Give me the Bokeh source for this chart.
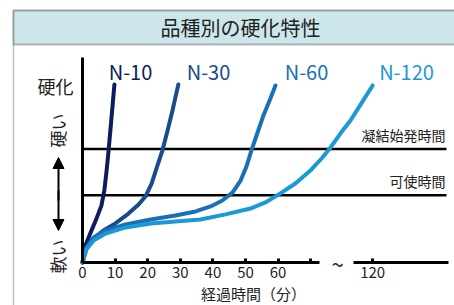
from math import pi
from bokeh.plotting import figure
from bokeh.models import (LinearAxis, FixedTicker, Range1d, BoxAnnotation, Label,
                          Arrow, NormalHead)
from bokeh.embed import file_html
from bokeh.resources import INLINE
from bokeh.core.properties import value

# ---------------- data ----------------
# elapsed time (axis position in minutes; the axis is broken after 70, 120 sits at 89)
n10_x = [0, 0.9, 2.5, 4.3, 5.8, 6.7, 7.4, 8.0, 8.6, 9.2, 9.8]
n10_y = [0, 8.1, 14.3, 21.0, 27.1, 34.3, 43.8, 53.3, 63.8, 74.3, 84.8]

n30_x = [0, 1.2, 3.1, 6.4, 10.1, 14.1, 17.2, 19.3, 21.2, 23.0, 24.5, 26.1, 27.6, 29.4]
n30_y = [0, 6.7, 11.0, 15.2, 18.6, 23.3, 27.6, 31.4, 37.6, 46.2, 53.3, 62.9, 72.4, 84.8]

n60_x = [0, 1.2, 3.4, 7.1, 13.2, 20.9, 28.5, 34.7, 39.3, 42.9, 46.0, 48.5, 50.3, 51.8, 53.7, 55.5, 57.4, 59.2]
n60_y = [0, 7.1, 11.9, 15.2, 18.1, 20.5, 22.4, 24.3, 26.7, 29.5, 33.3, 39.0, 45.7, 53.3, 61.9, 70.0, 77.1, 84.3]

n120_x = [0, 1.2, 3.4, 7.1, 13.2, 20.9, 28.5, 36.2, 43.9, 51.5, 56.1, 60.7, 65.3, 69.9, 73.6, 76.1, 79.1, 82.2, 85.3, 89.0]
n120_y = [0, 6.2, 10.5, 13.8, 16.7, 18.6, 19.5, 20.5, 22.9, 25.7, 28.6, 32.9, 37.6, 43.8, 50.0, 54.8, 61.4, 67.6, 75.2, 84.3]

series_names = ["N-10", "N-30", "N-60", "N-120"]
series_colors = ["#0c1c5c", "#1a4b8c", "#1a70b5", "#1b98d6"]

thresholds = [32, 54]
threshold_labels = ["可使時間", "凝結始発時間"]

ticks_main = [0, 10, 20, 30, 40, 50, 60, 70]
tick_labels_main = ["0", "10", "20", "30", "40", "50", "60", ""]
ticks_far = [89]
tick_labels_far = ["120"]

title_text = "品種別の硬化特性"
x_title = "経過時間（分）"

# ---------------- layout helpers (page pixel -> data) ----------------
W, H = 454, 305
OFF = 0                     # page offset of the canvas
PX0, PY0 = 82, 262          # page pixel of the origin
SX, SY = 3.26, 2.1          # pixels per unit


def dx(px):
    return (px - PX0) / SX


def dy(py):
    return (PY0 - py) / SY


p = figure(width=W, height=H, x_range=Range1d(dx(OFF), dx(OFF + W)),
           y_range=Range1d(dy(OFF + H), dy(OFF)), output_backend="svg",
           toolbar_location=None, min_border=0, x_axis_type=None, y_axis_type=None)
p.outline_line_color = None
p.background_fill_color = "white"
p.border_fill_color = "white"

JP = "Noto Sans CJK JP"

# outer frame and title bar
p.add_layout(BoxAnnotation(left=dx(13), right=dx(600), top=dy(10), bottom=dy(600),
                           fill_alpha=0, line_color="#333333", line_width=1.5))
p.add_layout(BoxAnnotation(left=dx(13), right=dx(600), top=dy(10), bottom=dy(44),
                           fill_color="#cce6ea", fill_alpha=1, line_color="#222222", line_width=2))
p.add_layout(Label(x=dx(240), y=dy(27), text=title_text, text_font=JP, text_font_size="20px",
                   text_align="center", text_baseline="middle", text_color="#222222"))

# threshold lines
line_end = dx(446)
for t, lab in zip(thresholds, threshold_labels):
    p.segment(x0=[0], y0=[t], x1=[line_end], y1=[t], line_color="black", line_width=2.5)
    p.text(x=[dx(445)], y=[t], text=[lab], text_font=value(JP), text_font_size="14px",
           text_align="right", text_baseline="bottom", y_offset=-4, text_color="#222222")

# curves
for xs, ys, c in zip([n10_x, n30_x, n60_x, n120_x], [n10_y, n30_y, n60_y, n120_y], series_colors):
    p.line(xs, ys, line_color=c, line_width=4, line_cap="round", line_join="round")

# series labels
label_x = [dx(130), dx(208), dx(306), dx(406)]
for lx, name, c in zip(label_x, series_names, series_colors):
    p.text(x=[lx], y=[dy(71)], text=[name], text_font=value(JP), text_font_size="20px",
           text_align="center", text_baseline="middle", text_color=c)

# y axis (line only)
yax = LinearAxis(fixed_location=0, bounds=(0, dy(57)), ticker=FixedTicker(ticks=[]),
                 major_tick_in=0, major_tick_out=0, minor_tick_in=0, minor_tick_out=0,
                 axis_line_width=3, axis_line_color="black", major_label_text_font_size="0px")
p.add_layout(yax, "left")

# x axes (broken)
def make_xaxis(bounds, ticks, labels):
    ax = LinearAxis(fixed_location=0, bounds=bounds, ticker=FixedTicker(ticks=ticks),
                    major_label_overrides={t: l for t, l in zip(ticks, labels)},
                    major_tick_in=4, major_tick_out=0, minor_tick_in=0, minor_tick_out=0,
                    axis_line_width=3, axis_line_color="black", major_tick_line_width=3,
                    major_tick_line_color="black", major_label_standoff=4,
                    major_label_text_font=JP, major_label_text_font_size="15px",
                    major_label_text_color="#222222")
    p.add_layout(ax, "below")
    return ax

make_xaxis((0, dx(319)), ticks_main, tick_labels_main)
make_xaxis((dx(353), dx(448)), ticks_far, tick_labels_far)

p.add_layout(Label(x=dx(337), y=dy(262), text="~", text_font=JP, text_font_size="22px",
                   text_align="center", text_baseline="middle", text_color="#222222"))
p.add_layout(Label(x=dx(253), y=dy(293), text=x_title, text_font=JP, text_font_size="15px",
                   text_align="center", text_baseline="middle", text_color="#222222"))

# y side labels
p.add_layout(Label(x=dx(55), y=dy(85), text="硬化", text_font=JP, text_font_size="18px",
                   text_align="center", text_baseline="middle", text_color="#222222"))
p.add_layout(Label(x=dx(57), y=dy(130), text="硬い", text_font=JP, text_font_size="17px",
                   angle=pi / 2, text_align="center", text_baseline="middle", text_color="#222222"))
p.add_layout(Label(x=dx(57), y=dy(256), text="軟い", text_font=JP, text_font_size="17px",
                   angle=pi / 2, text_align="center", text_baseline="middle", text_color="#222222"))
p.add_layout(Arrow(x_start=dx(58), y_start=dy(200), x_end=dx(58), y_end=dy(157),
                   line_width=2, line_color="black",
                   end=NormalHead(size=11, fill_color="black", line_color="black")))
p.add_layout(Arrow(x_start=dx(58), y_start=dy(190), x_end=dx(58), y_end=dy(230),
                   line_width=2, line_color="black",
                   end=NormalHead(size=11, fill_color="black", line_color="black")))

open("out.html", "w").write(file_html(p, INLINE))
